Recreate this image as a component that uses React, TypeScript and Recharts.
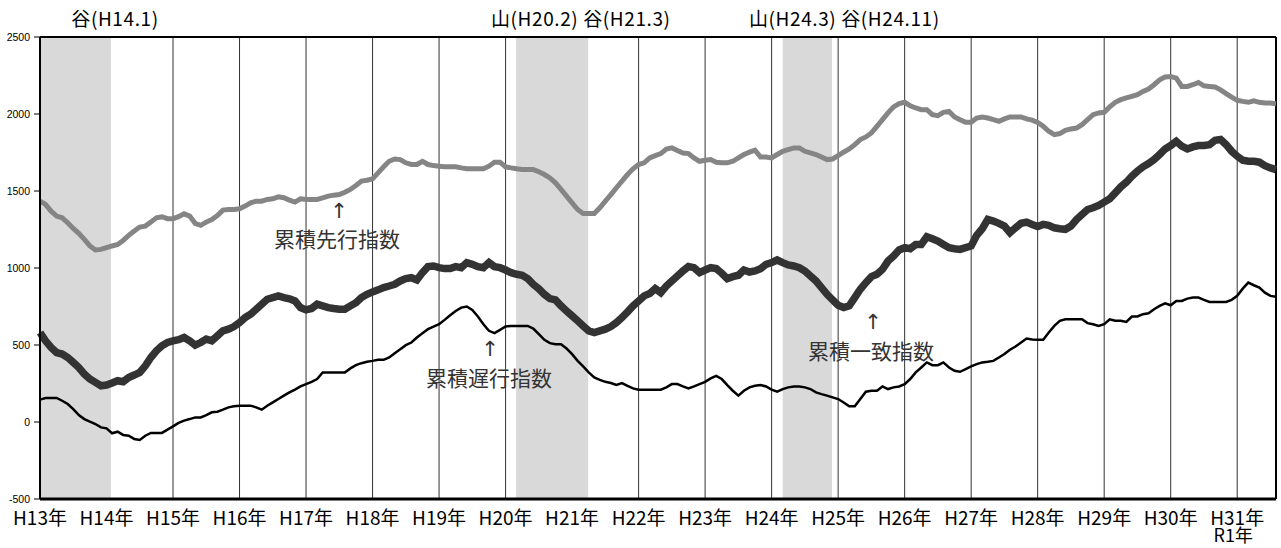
import { LineChart, Line, XAxis, YAxis, CartesianGrid, ReferenceArea, ReferenceLine } from 'recharts';

// 月次（H13年1月 = 0 ～ R1年）
const leading = [
  1434, 1413, 1369, 1337, 1326, 1294, 1257, 1225, 1186, 1143, 1117, 1121,
  1132, 1143, 1153, 1179, 1212, 1240, 1266, 1272, 1298, 1326, 1333, 1320,
  1320, 1333, 1352, 1337, 1290, 1277, 1298, 1315, 1341, 1376, 1380, 1380,
  1385, 1402, 1423, 1434, 1434, 1445, 1449, 1462, 1456, 1441, 1428, 1449,
  1445, 1445, 1445, 1456, 1467, 1473, 1477, 1492, 1510, 1536, 1564, 1570,
  1579, 1618, 1657, 1693, 1708, 1704, 1683, 1672, 1672, 1693, 1672, 1665,
  1661, 1657, 1657, 1657, 1650, 1644, 1644, 1644, 1644, 1661, 1687, 1687,
  1657, 1650, 1644, 1639, 1639, 1639, 1625, 1607, 1585, 1553, 1510, 1467,
  1423, 1380, 1354, 1354, 1354, 1391, 1434, 1477, 1521, 1564, 1607, 1644,
  1672, 1683, 1715, 1730, 1743, 1773, 1780, 1763, 1747, 1743, 1715, 1693,
  1700, 1704, 1687, 1683, 1683, 1693, 1715, 1737, 1752, 1765, 1721, 1721,
  1715, 1737, 1758, 1769, 1780, 1780, 1758, 1747, 1737, 1721, 1704, 1708,
  1730, 1752, 1773, 1801, 1834, 1851, 1877, 1920, 1963, 2007, 2046, 2067,
  2076, 2054, 2039, 2028, 2028, 1996, 1989, 2011, 2017, 1981, 1963, 1946,
  1946, 1974, 1981, 1974, 1963, 1953, 1968, 1981, 1981, 1981, 1968, 1960,
  1945, 1920, 1888, 1866, 1873, 1894, 1903, 1909, 1931, 1963, 1996, 2007,
  2011, 2046, 2076, 2093, 2104, 2115, 2125, 2147, 2162, 2190, 2222, 2240,
  2244, 2233, 2179, 2179, 2190, 2205, 2183, 2179, 2175, 2157, 2132, 2110,
  2089, 2082, 2076, 2086, 2076, 2071, 2071, 2067,
];

const coincident = [
  581, 527, 484, 451, 441, 419, 387, 354, 311, 279, 257, 235,
  240, 253, 268, 261, 289, 305, 322, 365, 419, 462, 495, 516,
  527, 534, 549, 527, 499, 516, 538, 527, 559, 592, 603, 620,
  646, 678, 700, 732, 765, 797, 808, 819, 808, 800, 786, 743,
  728, 737, 765, 754, 743, 737, 732, 732, 754, 775, 808, 829,
  845, 858, 873, 883, 894, 916, 931, 937, 922, 970, 1009, 1013,
  1002, 996, 996, 1009, 1002, 1035, 1024, 1009, 1002, 1035, 1009, 1002,
  987, 970, 959, 953, 931, 894, 865, 829, 801, 793, 754, 721,
  689, 657, 624, 592, 581, 592, 603, 620, 646, 678, 715, 754,
  786, 819, 834, 866, 840, 883, 916, 948, 981, 1009, 1002, 970,
  987, 1002, 996, 966, 931, 944, 953, 987, 974, 981, 996, 1024,
  1035, 1052, 1035, 1020, 1013, 1002, 981, 948, 916, 873, 829, 793,
  758, 743, 754, 808, 862, 905, 944, 959, 991, 1045, 1078, 1117,
  1132, 1125, 1153, 1153, 1203, 1190, 1175, 1153, 1132, 1125, 1121, 1132,
  1143, 1212, 1255, 1315, 1305, 1290, 1272, 1229, 1261, 1290, 1298, 1283,
  1270, 1283, 1277, 1261, 1255, 1251, 1272, 1315, 1348, 1380, 1391, 1406,
  1428, 1449, 1488, 1527, 1557, 1596, 1629, 1657, 1678, 1704, 1737, 1773,
  1795, 1823, 1791, 1773, 1786, 1795, 1795, 1801, 1829, 1834, 1801, 1758,
  1726, 1700, 1693, 1693, 1687, 1665, 1650, 1639,
];

const lagging = [
  145, 156, 156, 156, 138, 117, 84, 45, 19, 2, -13, -35,
  -41, -73, -63, -84, -89, -110, -117, -89, -71, -71, -71, -50,
  -28, -6, 9, 19, 30, 30, 45, 63, 67, 80, 95, 102,
  106, 106, 106, 95, 80, 106, 127, 149, 171, 192, 210, 231,
  246, 261, 279, 322, 322, 322, 322, 322, 348, 369, 382, 391,
  397, 404, 404, 419, 447, 473, 499, 516, 549, 577, 603, 620,
  635, 663, 693, 721, 743, 750, 728, 685, 635, 592, 577, 598,
  620, 624, 624, 624, 624, 607, 570, 534, 512, 505, 505, 477,
  441, 397, 361, 322, 289, 274, 261, 253, 240, 253, 235, 218,
  210, 210, 210, 210, 210, 225, 246, 246, 231, 218, 231, 246,
  261, 283, 300, 279, 240, 203, 171, 203, 225, 235, 240, 231,
  210, 197, 214, 225, 231, 231, 225, 214, 192, 181, 171, 160,
  149, 127, 102, 102, 149, 197, 203, 203, 231, 214, 225, 231,
  246, 279, 322, 354, 387, 369, 369, 387, 354, 333, 326, 343,
  361, 376, 387, 391, 397, 419, 441, 469, 490, 516, 542, 536,
  534, 534, 581, 624, 657, 667, 667, 667, 667, 642, 635, 624,
  635, 667, 657, 657, 650, 685, 685, 700, 706, 732, 754, 771,
  758, 786, 786, 801, 808, 808, 793, 780, 780, 780, 780, 793,
  819, 866, 905, 888, 873, 840, 819, 814,
];

const yearTicks = [0, 12, 24, 36, 48, 60, 72, 84, 96, 108, 120, 132, 144, 156, 168, 180, 192, 204, 216];
const yearLabels = ['H13年', 'H14年', 'H15年', 'H16年', 'H17年', 'H18年', 'H19年', 'H20年', 'H21年', 'H22年',
  'H23年', 'H24年', 'H25年', 'H26年', 'H27年', 'H28年', 'H29年', 'H30年', 'H31年'];
const yearSubLabels: Record<number, string> = { 216: 'R1年' };

const yTicks = [-500, 0, 500, 1000, 1500, 2000, 2500];

// 景気後退期（山～谷）
const recessions = [
  { from: 0, to: 12.8 },
  { from: 85.9, to: 98.9 },
  { from: 134, to: 142.9 },
];

const FONT = '"Noto Sans CJK JP", "Noto Sans", sans-serif';
const ARROW_FONT = '"DejaVu Sans", "Liberation Sans", sans-serif';

const data = leading.map((v, i) => ({
  m: i,
  leading: v,
  coincident: coincident[i],
  lagging: lagging[i],
}));

const YearTick = (props: any) => {
  const { x, y, payload } = props;
  const i = yearTicks.indexOf(payload.value);
  const sub = yearSubLabels[payload.value];
  return (
    <text x={x} y={y + 26} textAnchor="middle" fontSize={19} fill="#000" fontFamily={FONT}>
      <tspan x={x}>{yearLabels[i]}</tspan>
      {sub && (
        <tspan x={x - 4} dy={17} fontSize={18}>
          {sub}
        </tspan>
      )}
    </text>
  );
};

export default function App() {
  return (
    <div style={{ position: 'absolute', left: 0, top: 0, width: 1281, height: 548, background: '#fff' }}>
      <LineChart
        width={1281}
        height={548}
        data={data}
        margin={{ top: 37, right: 5, bottom: 0, left: 0 }}
      >
        <CartesianGrid vertical horizontal={false} stroke="#333" strokeWidth={1} />
        {recessions.map((r, i) => (
          <ReferenceArea key={i} x1={r.from} x2={r.to} y1={-500} y2={2500} fill="#d9d9d9" fillOpacity={1} stroke="none" />
        ))}
        <XAxis
          dataKey="m"
          type="number"
          domain={[0, 223]}
          ticks={yearTicks}
          interval={0}
          height={49}
          tickLine={false}
          tickSize={0}
          tickMargin={0}
          axisLine={{ stroke: '#000', strokeWidth: 3 }}
          tick={<YearTick />}
        />
        <YAxis
          type="number"
          domain={[-500, 2500]}
          ticks={yTicks}
          interval={0}
          width={40}
          tickSize={6}
          tickMargin={4}
          axisLine={{ stroke: '#000', strokeWidth: 2 }}
          tickLine={{ stroke: '#000' }}
          tick={{ fontSize: 10.5, fill: '#000', fontFamily: '"Liberation Sans", Arial, sans-serif' }}
        />
        <ReferenceLine y={2500} stroke="#000" strokeWidth={2} />
        <ReferenceLine x={223} stroke="#000" strokeWidth={2} />
        <Line type="linear" dataKey="leading" stroke="#858585" strokeWidth={5} dot={false} isAnimationActive={false} />
        <Line type="linear" dataKey="coincident" stroke="#333" strokeWidth={7.5} dot={false} isAnimationActive={false} />
        <Line type="linear" dataKey="lagging" stroke="#000" strokeWidth={2.5} dot={false} isAnimationActive={false} />
      </LineChart>
      <svg
        width={1281}
        height={548}
        style={{ position: 'absolute', left: 0, top: 0, pointerEvents: 'none' }}
        fontFamily={FONT}
      >
        <text x={115} y={26} textAnchor="middle" fontSize={19} letterSpacing={0.6} fill="#000">谷(H14.1)</text>
        <text x={491} y={26} fontSize={19} letterSpacing={0.6} fill="#000">山(H20.2) 谷(H21.3)</text>
        <text x={749} y={26} fontSize={19} letterSpacing={0.6} fill="#000">山(H24.3) 谷(H24.11)</text>

        <text x={339} y={218} textAnchor="middle" fontSize={21} fill="#333" fontFamily={ARROW_FONT}>↑</text>
        <text x={274} y={247} fontSize={21} fill="#333">累積先行指数</text>

        <text x={490} y={356} textAnchor="middle" fontSize={21} fill="#333" fontFamily={ARROW_FONT}>↑</text>
        <text x={426} y={386} fontSize={21} fill="#333">累積遅行指数</text>

        <text x={873} y={329} textAnchor="middle" fontSize={21} fill="#333" fontFamily={ARROW_FONT}>↑</text>
        <text x={808} y={359} fontSize={21} fill="#333">累積一致指数</text>
      </svg>
    </div>
  );
}
